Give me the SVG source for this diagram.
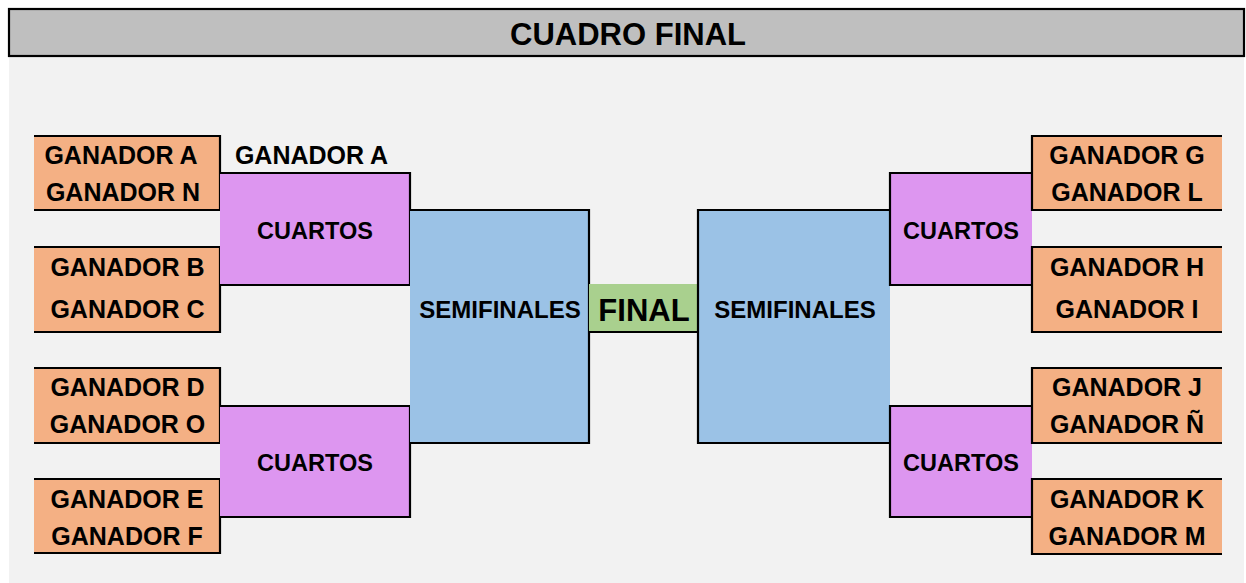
<svg xmlns="http://www.w3.org/2000/svg" width="1246" height="583" viewBox="0 0 1246 583">
<style>
text{font-family:"Liberation Sans",Arial,sans-serif;font-weight:bold;fill:#000;text-anchor:middle}
.t{font-size:25px}
.s{font-size:24px}
.c{font-size:23.5px}
.b{fill:none;stroke:#000;stroke-width:2.2}
.or{fill:#f4b084}
.pk{fill:#dd96f0}
.bl{fill:#9bc2e6}
.gr{fill:#a9d08e}
</style>
<rect x="0" y="0" width="1246" height="583" fill="#ffffff"/>
<rect x="9" y="56" width="1235" height="527" fill="#f2f2f2"/>
<g id="title">
<rect x="9" y="9" width="1235" height="47" fill="#bfbfbf" stroke="#000" stroke-width="2.2"/>
<text x="628" y="44.5" style="font-size:31px">CUADRO FINAL</text>
</g>
<g id="l-o1"><rect class="or" x="34" y="136" width="186" height="74"/><path class="b" d="M34 136H220V210H34"/>
<text class="t" x="121" y="164">GANADOR A</text><text class="t" x="123" y="201">GANADOR N</text></g>
<g id="l-o2"><rect class="or" x="34" y="247" width="186" height="85"/><path class="b" d="M34 247H220V332H34"/>
<text class="t" x="127.5" y="276">GANADOR B</text><text class="t" x="127.5" y="317.5">GANADOR C</text></g>
<g id="l-o3"><rect class="or" x="34" y="368" width="186" height="75"/><path class="b" d="M34 368H220V443H34"/>
<text class="t" x="127.5" y="396">GANADOR D</text><text class="t" x="127.5" y="433">GANADOR O</text></g>
<g id="l-o4"><rect class="or" x="34" y="479" width="186" height="74"/><path class="b" d="M34 479H220V553H34"/>
<text class="t" x="127" y="508">GANADOR E</text><text class="t" x="127" y="545">GANADOR F</text></g>
<g id="l-label"><text class="t" x="311.5" y="164">GANADOR A</text></g>
<g id="l-c1"><rect class="pk" x="220" y="173" width="190" height="112"/><path class="b" d="M220 173H410V285H220"/>
<text class="c" x="315" y="239">CUARTOS</text></g>
<g id="l-c2"><rect class="pk" x="220" y="406" width="190" height="111"/><path class="b" d="M220 406H410V517H220"/>
<text class="c" x="315" y="470.5">CUARTOS</text></g>
<g id="l-semi"><rect class="bl" x="410" y="210" width="179" height="233"/><path class="b" d="M410 210H589V443H410"/>
<text class="s" x="500" y="317.5">SEMIFINALES</text></g>
<g id="final"><rect class="gr" x="589" y="284" width="109" height="48"/><path class="b" d="M589 332H698"/>
<text x="644" y="321" style="font-size:31px">FINAL</text></g>
<g id="r-semi"><rect class="bl" x="698" y="210" width="192" height="233"/><path class="b" d="M890 210H698V443H890"/>
<text class="s" x="795" y="317.5">SEMIFINALES</text></g>
<g id="r-c1"><rect class="pk" x="890" y="173" width="142" height="112"/><path class="b" d="M1032 173H890V285H1032"/>
<text class="c" x="961" y="239">CUARTOS</text></g>
<g id="r-c2"><rect class="pk" x="890" y="406" width="142" height="111"/><path class="b" d="M1032 406H890V517H1032"/>
<text class="c" x="961" y="471">CUARTOS</text></g>
<g id="r-o1"><rect class="or" x="1032" y="136" width="190" height="74"/><path class="b" d="M1222 136H1032V210H1222"/>
<text class="t" x="1127" y="164">GANADOR G</text><text class="t" x="1127" y="200.5">GANADOR L</text></g>
<g id="r-o2"><rect class="or" x="1032" y="247" width="190" height="85"/><path class="b" d="M1222 247H1032V332H1222"/>
<text class="t" x="1127" y="276">GANADOR H</text><text class="t" x="1127" y="317.5">GANADOR I</text></g>
<g id="r-o3"><rect class="or" x="1032" y="368" width="190" height="75"/><path class="b" d="M1222 368H1032V443H1222"/>
<text class="t" x="1127" y="396">GANADOR J</text><text class="t" x="1127" y="433">GANADOR Ñ</text></g>
<g id="r-o4"><rect class="or" x="1032" y="479" width="190" height="75"/><path class="b" d="M1222 479H1032V554H1222"/>
<text class="t" x="1127" y="508">GANADOR K</text><text class="t" x="1127" y="545">GANADOR M</text></g>
<g id="connectors"></g>
</svg>
